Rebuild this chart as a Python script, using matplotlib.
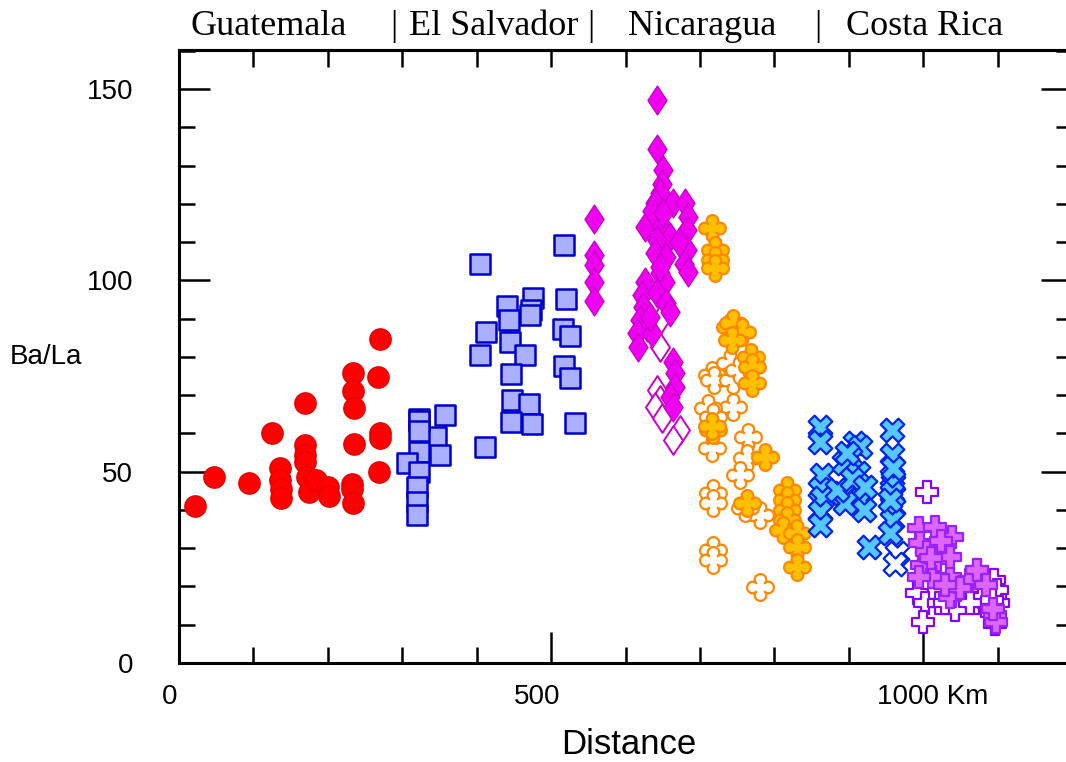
import numpy as np
import matplotlib
matplotlib.use('Agg')
import matplotlib.pyplot as plt
from matplotlib.path import Path
from matplotlib.ticker import MultipleLocator, FixedLocator
import matplotlib.transforms as mtransforms

# ---------------- data ----------------
guat_x = [21.5, 46.6, 93.7, 125.4, 169.4, 169.4, 169.4, 169.4, 135.8, 135.8, 136.7, 137.1,
          171.6, 175.1, 184.1, 200.7, 201.6, 234.3, 234.3, 234.8, 235.6, 232.1, 232.9, 233.5,
          270.2, 267.9, 270.2, 270.2, 269.2]
guat_y = [41.1, 48.5, 47.0, 60.2, 68.0, 57.0, 54.4, 52.6, 50.9, 47.8, 45.6, 43.0,
          48.7, 44.8, 47.8, 45.9, 43.6, 75.7, 71.2, 66.6, 57.2, 46.7, 45.6, 41.7,
          84.6, 74.8, 60.0, 58.7, 49.9]

salv_x = [517, 405, 441, 476, 473, 472, 520, 444, 412, 516, 525, 445, 404, 465, 446, 518,
          525, 448, 470, 446, 475, 532, 411, 358, 346, 351, 322, 322, 322, 322, 306, 323,
          320, 320, 320]
salv_y = [109.2, 104.2, 93.4, 95.3, 92.2, 90.9, 95.1, 89.6, 86.5, 87.3, 85.5, 84.0, 80.5,
          80.5, 75.5, 77.6, 74.4, 68.7, 67.6, 63.1, 62.4, 62.6, 56.4, 64.7, 59.1, 54.4,
          63.8, 63.2, 60.7, 55.2, 52.3, 50.0, 46.1, 42.1, 38.7]

nic_d_x = [557, 557, 557, 557, 557, 642, 642, 651, 649, 646, 640, 664, 680, 684, 626, 646,
           660, 682, 642, 640, 682, 678, 684, 626, 646, 653, 622, 642, 655, 624, 660, 620,
           629, 615, 617, 635, 664, 667, 667, 660, 664, 636, 650, 672, 655, 646, 633]
nic_d_y = [116.0, 106.6, 104.0, 99.6, 94.7, 147.1, 134.2, 128.8, 125.3, 122.7, 120.1, 120.1,
           120.1, 116.6, 114.0, 114.9, 111.4, 113.1, 110.5, 107.1, 107.9, 104.4, 102.2, 99.6,
           101.8, 99.6, 96.2, 96.6, 94.0, 93.1, 91.8, 89.6, 87.9, 86.2, 82.6, 86.2, 78.7,
           75.7, 72.2, 69.6, 67.0, 118.0, 117.5, 110.0, 106.0, 103.5, 90.5]
nic_do_x = [646, 646, 642, 646, 640, 649, 673, 664]
nic_do_y = [82.6, 89.6, 71.3, 68.7, 67.0, 63.9, 60.9, 58.3]

nic_c_x = [716, 720, 720, 720, 741, 745, 756, 743, 768, 770, 770, 718, 716, 788, 763,
           817, 817, 817, 817, 812, 830, 830, 830]
nic_c_y = [113.6, 107.9, 105.3, 103.1, 87.9, 88.8, 86.6, 84.4, 80.0, 77.4, 73.1, 60.9,
           62.0, 53.9, 41.7, 45.2, 42.6, 40.0, 37.4, 34.8, 33.9, 30.4, 25.2]
nic_co_x = [716, 719, 741, 745, 745, 711, 718, 716, 765, 763, 754, 718, 718, 781, 718, 718,
            781, 761, 752]
nic_co_y = [75.3, 74.0, 78.3, 73.9, 67.0, 66.6, 64.4, 56.1, 59.1, 53.5, 49.1, 44.3, 41.7,
            38.7, 29.5, 26.9, 19.9, 40.4, 76.5]

cr_x_x = [862, 862, 864, 862, 864, 862, 862, 909, 915, 902, 893, 913, 891, 915, 895, 920,
          884, 927, 958, 958, 958, 960, 958, 960, 958, 956, 905, 922, 898, 960, 956]
cr_x_y = [61.7, 57.8, 49.1, 45.6, 43.0, 39.5, 36.1, 57.4, 56.5, 53.9, 52.2, 49.6, 44.3,
          42.6, 41.7, 40.0, 45.2, 30.4, 60.9, 54.4, 48.7, 47.0, 44.3, 40.8, 37.4, 33.9,
          48.0, 46.0, 55.0, 51.0, 42.5]
cr_xo_x = [965, 962]
cr_xo_y = [28.7, 26.0]

cr_p_x = [994, 1016, 1039, 996, 1027, 998, 1018, 1036, 1072, 1012, 994, 1039, 1061, 1036,
          1072, 1036, 1005, 1024, 1050, 1085, 1096, 1098, 1094, 1030, 1010]
cr_p_y = [35.2, 35.6, 33.0, 31.3, 30.0, 25.6, 26.9, 22.6, 24.3, 22.6, 22.6, 17.8, 21.7,
          27.8, 24.3, 17.3, 29.0, 32.0, 19.5, 20.5, 12.5, 10.8, 14.0, 20.5, 27.5]
cr_po_x = [1005, 992, 1003, 1000, 1021, 1043, 1070, 1088, 1097, 1092, 1097, 1101, 1079,
           1063, 1030, 1095, 1099, 1093]
cr_po_y = [44.8, 18.2, 15.6, 10.8, 15.6, 13.8, 15.6, 19.9, 17.3, 13.0, 10.3, 15.6, 17.3,
           15.6, 15.6, 21.7, 19.0, 16.5]

y_ticks = [0, 50, 100, 150]
y_labels = ['0', '50', '100', '150']
x_labels = ['0', '500', '1000 Km']
regions = ['Guatemala', '|', 'El Salvador', '|', 'Nicaragua', '|', 'Costa Rica']

# ---------------- figure ----------------
W, H = 1066, 762
fig = plt.figure(figsize=(W / 100, H / 100), dpi=100)
ax = fig.add_axes([179 / W, (H - 663) / H, 893 / W, 613 / H])
ax.set_xlim(0, 1200)
ax.set_ylim(0, 160.2)

sans = 'Liberation Sans'
serif = 'Liberation Serif'

# custom rounded cross marker
th = np.linspace(0, 2 * np.pi, 145)
r = 0.45 + 0.55 * np.abs(np.cos(2 * th)) ** 0.55
verts = np.column_stack([r * np.cos(th), r * np.sin(th)])
verts[-1] = verts[0]
cross = Path(verts, closed=True)

# diamond marker (width/height ~ 0.66)
diamond = Path([(0, 1), (0.66, 0), (0, -1), (-0.66, 0), (0, 1)], closed=True)

ax.scatter(guat_x, guat_y, s=235, marker='o', facecolor='#ff0000', edgecolor='#e80000',
           linewidth=1.0, zorder=3)
ax.scatter(salv_x, salv_y, s=215, marker='s', facecolor='#aab0ff', edgecolor='#0000cc',
           linewidth=1.8, zorder=3)
ax.scatter(nic_do_x, nic_do_y, s=430, marker=diamond, facecolor='white', edgecolor='#cc00cc',
           linewidth=1.4, zorder=3)
ax.scatter(nic_d_x, nic_d_y, s=430, marker=diamond, facecolor='#f000f0', edgecolor='#cc00cc',
           linewidth=1.0, zorder=3)
ax.scatter(nic_co_x, nic_co_y, s=370, marker=cross, facecolor='white', edgecolor='#ff8800',
           linewidth=1.6, zorder=3)
ax.scatter(nic_c_x, nic_c_y, s=370, marker=cross, facecolor='#ffc000', edgecolor='#ff8800',
           linewidth=1.6, zorder=3)
ax.scatter(cr_xo_x, cr_xo_y, s=290, marker='X', facecolor='white', edgecolor='#0022ee',
           linewidth=1.6, zorder=3)
ax.scatter(cr_x_x, cr_x_y, s=290, marker='X', facecolor='#55c8ff', edgecolor='#0022ee',
           linewidth=1.6, zorder=3)
ax.scatter(cr_po_x, cr_po_y, s=250, marker='P', facecolor='white', edgecolor='#8800ff',
           linewidth=1.6, zorder=3)
ax.scatter(cr_p_x, cr_p_y, s=250, marker='P', facecolor='#dd66ff', edgecolor='#9922ff',
           linewidth=1.6, zorder=3)

# spines / ticks
for sp in ax.spines.values():
    sp.set_linewidth(2.2)
ax.yaxis.set_major_locator(FixedLocator(y_ticks))
ax.yaxis.set_minor_locator(MultipleLocator(10))
ax.set_yticklabels(y_labels, fontsize=20, fontname=sans)
ax.xaxis.set_major_locator(FixedLocator([0, 500, 1000]))
ax.xaxis.set_minor_locator(MultipleLocator(100))
ax.tick_params(axis='y', which='both', direction='in', left=True, right=True, width=1.8, pad=33)
ax.tick_params(axis='y', which='major', length=22)
ax.tick_params(axis='y', which='minor', length=11.5)
ax.tick_params(axis='x', which='both', direction='in', bottom=True, top=False, width=1.8,
               labelbottom=False)
ax.tick_params(axis='x', which='major', length=22)
ax.tick_params(axis='x', which='minor', length=11.5)

sec = ax.secondary_xaxis('top')
sec.xaxis.set_major_locator(MultipleLocator(100))
sec.tick_params(direction='in', length=12, width=1.8, labeltop=False)
sec.spines['top'].set_linewidth(2.2)

# x tick labels (slightly offset as in reference)
tr = mtransforms.blended_transform_factory(ax.transData, ax.transAxes)
ylab = -34 / 613
ax.text(-12, ylab, x_labels[0], transform=tr, ha='center', va='center', fontsize=20,
        fontname=sans, clip_on=False)
ax.text(481, ylab, x_labels[1], transform=tr, ha='center', va='center', fontsize=20,
        fontname=sans, clip_on=False)
ax.text(938, ylab, x_labels[2], transform=tr, ha='left', va='center', fontsize=20,
        fontname=sans, clip_on=False)

fig.text(629 / W, 1 - 745 / H, 'Distance', ha='center', va='center', fontsize=25, fontname=sans)
fig.text(10 / W, 1 - 357 / H, 'Ba/La', ha='left', va='center', fontsize=20, fontname=sans)

# header
hx = [395, 394, 409, 591, 628, 818, 846]
hx[0] = 190
has = ['left', 'center', 'left', 'center', 'left', 'center', 'left']
for x, t, h in zip(hx, regions, has):
    fig.text(x / W, 1 - 35 / H, t, ha=h, va='baseline', fontsize=26, fontname=serif)

fig.savefig('out.png', dpi=100)
